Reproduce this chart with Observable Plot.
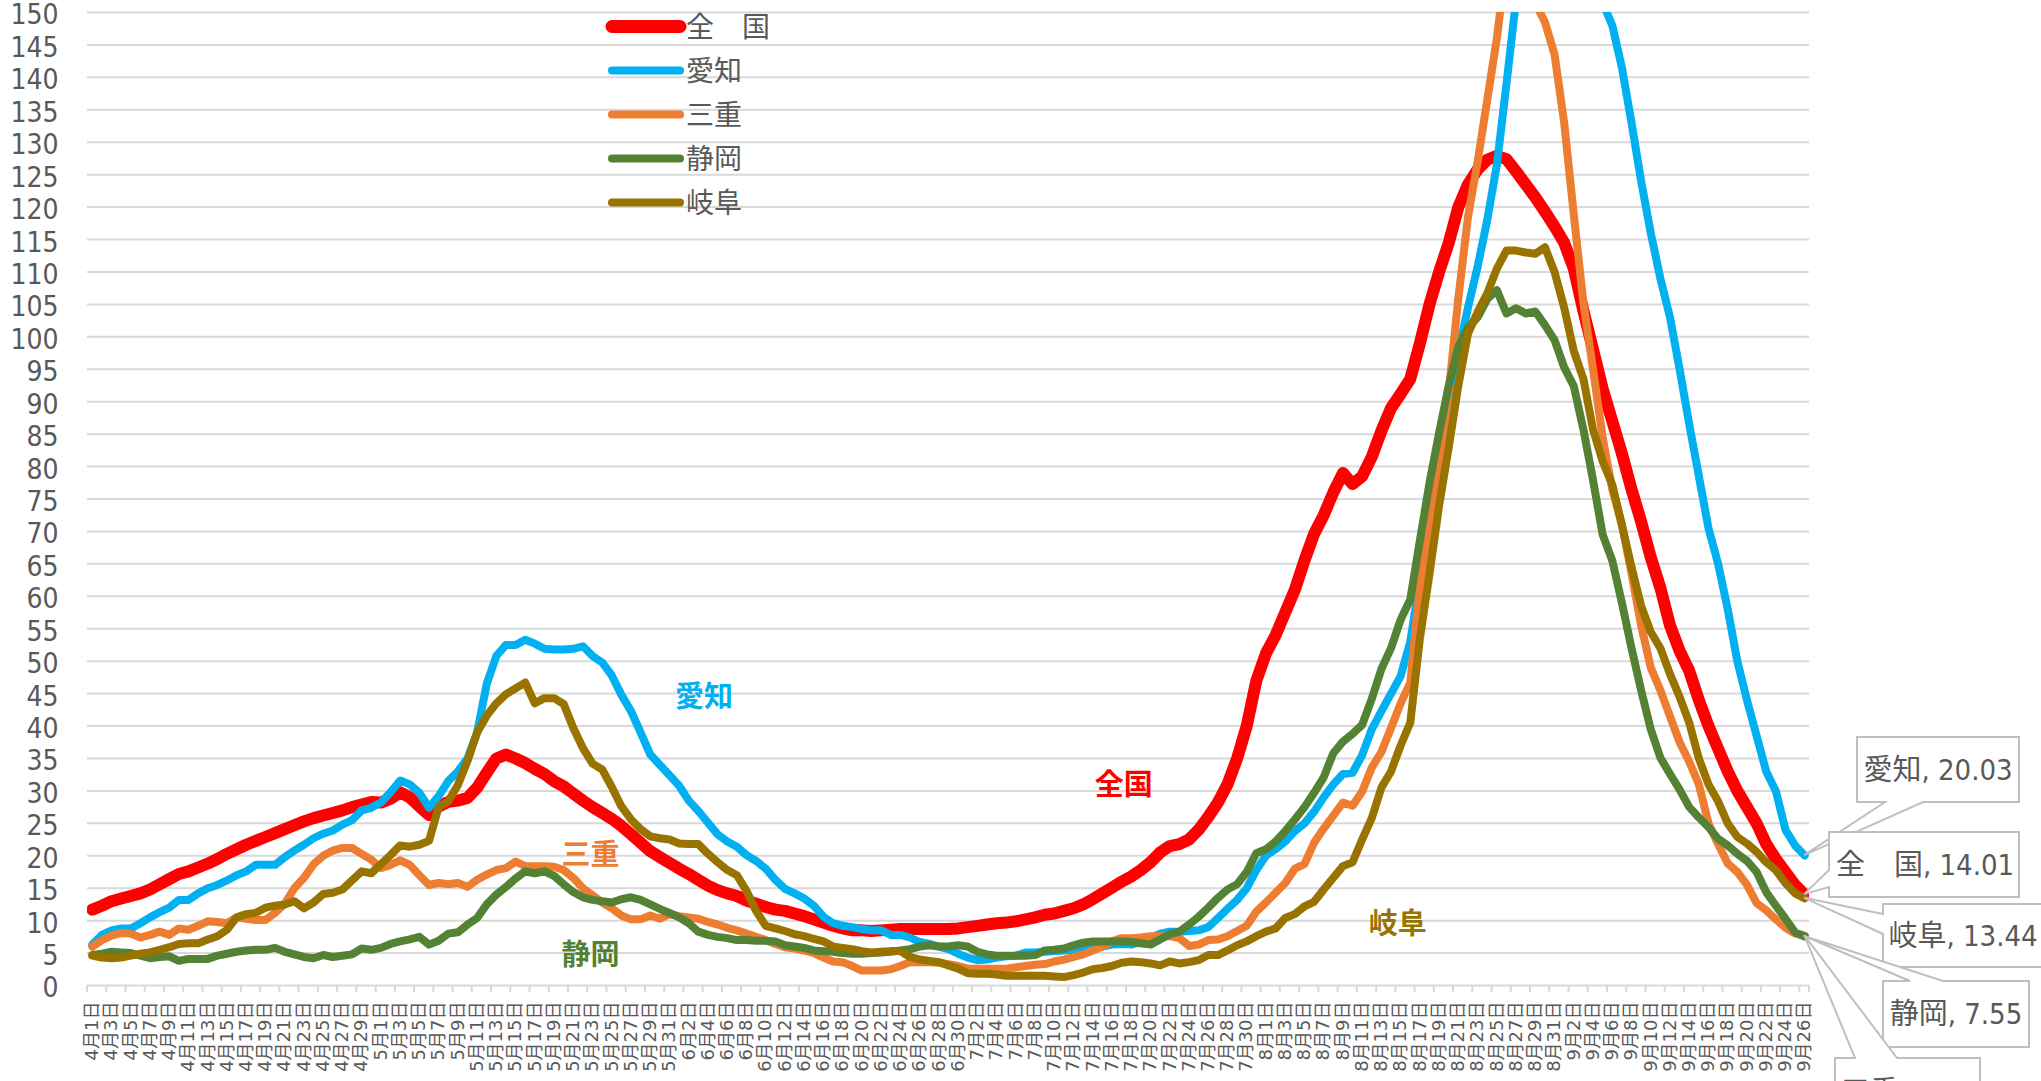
<!DOCTYPE html>
<html><head><meta charset="utf-8">
<script src="https://cdn.jsdelivr.net/npm/d3@7"></script>
<script src="https://cdn.jsdelivr.net/npm/@observablehq/plot@0.6"></script>
<style>
html,body{margin:0;padding:0;background:#fff;}
#chart{position:relative;width:2041px;height:1081px;overflow:hidden;}
</style></head><body><div id="chart"></div>
<script>
// ---- categories ----
const months = [4, 5, 6, 7, 8, 9];
const monthDays = [30, 31, 30, 31, 31, 26];
const dates = [];
months.forEach((m, k) => { for (let d = 1; d <= monthDays[k]; d++) dates.push(`${m}月${d}日`); });
const xTickLabels = dates.filter((d, i) => i % 2 === 0);
const yTicks = [0,5,10,15,20,25,30,35,40,45,50,55,60,65,70,75,80,85,90,95,100,105,110,115,120,125,130,135,140,145,150];

// ---- series ----
const seriesNames = ["全　国", "愛知", "三重", "静岡", "岐阜"];
const seriesColors = ["#FF0000", "#00B0F0", "#ED7D31", "#548235", "#997300"];

const zenkoku = [
 11.7,12.3,13.0,13.4,13.8,14.2,14.8,15.6,16.4,17.2,
 17.6,18.2,18.8,19.5,20.3,21.0,21.7,22.3,22.9,23.5,
 24.1,24.7,25.3,25.8,26.2,26.6,27.0,27.5,27.9,28.3,
 28.2,28.8,29.8,29.0,27.6,26.3,27.6,28.3,28.5,28.9,
 30.5,32.8,35.0,35.6,35.0,34.3,33.4,32.6,31.5,30.7,
 29.6,28.5,27.5,26.6,25.7,24.6,23.3,22.0,20.7,19.8,
 18.9,18.0,17.2,16.3,15.4,14.7,14.2,13.8,13.1,12.6,
 12.1,11.7,11.5,11.1,10.7,10.2,9.7,9.2,8.8,8.5,
 8.5,8.4,8.5,8.6,8.7,8.7,8.7,8.7,8.7,8.7,
 8.8,9.0,9.2,9.4,9.6,9.7,9.9,10.2,10.5,10.9,
 11.1,11.5,11.9,12.5,13.3,14.2,15.1,16.0,16.8,17.8,
 19.0,20.5,21.5,21.8,22.5,24.0,26.0,28.2,31.0,35.0,
 40.0,47.0,51.2,54.0,57.5,61.0,65.5,69.6,72.5,76.0,
 79.0,77.3,78.5,81.5,85.5,89.0,91.2,93.5,99.0,105.0,
 110.0,114.5,120.0,123.5,125.8,127.3,127.9,127.4,125.5,123.5,
 121.5,119.3,117.0,114.5,110.5,104.0,98.0,92.0,87.0,82.0,
 76.5,71.5,66.0,61.3,55.5,51.6,48.5,44.0,40.0,36.5,
 33.0,30.0,27.5,25.0,21.8,19.5,17.5,15.5,14.01];

const aichi = [
 6.3,7.8,8.5,8.8,8.8,9.6,10.5,11.3,12.0,13.2,
 13.2,14.2,15.0,15.5,16.2,17.0,17.6,18.6,18.6,18.6,
 19.8,20.8,21.7,22.7,23.4,23.9,24.8,25.5,27.0,27.4,
 28.2,29.8,31.6,31.0,29.7,27.4,29.2,31.5,33.0,35.0,
 39.0,46.5,50.8,52.5,52.5,53.3,52.7,51.9,51.8,51.8,
 51.9,52.3,50.8,49.8,47.8,44.8,42.3,39.0,35.6,34.0,
 32.4,30.8,28.5,26.9,25.1,23.3,22.2,21.4,20.1,19.2,
 18.0,16.3,14.9,14.2,13.4,12.3,10.6,9.6,9.2,9.0,
 8.7,8.5,8.5,7.8,7.8,7.4,6.7,6.4,6.0,5.6,
 4.9,4.3,3.9,4.0,4.3,4.5,4.6,5.1,5.1,5.2,
 5.3,5.4,5.5,5.7,5.9,6.0,6.3,6.4,6.3,6.7,
 7.3,8.0,8.3,8.3,8.4,8.5,9.0,10.4,11.8,13.2,
 15.0,17.8,20.0,21.0,22.2,23.8,25.0,26.8,29.0,31.0,
 32.6,32.8,35.5,39.5,42.3,45.0,47.7,53.0,62.5,71.5,
 80.5,89.5,97.5,104.5,110.8,118.0,126.5,139.0,152.0,166.0,
 180.0,188.0,190.0,186.0,178.0,169.0,160.0,151.5,148.0,141.5,
 133.0,124.0,116.0,109.0,103.0,95.0,86.5,78.5,70.5,65.0,
 58.0,50.0,44.0,38.5,33.0,30.0,24.0,21.6,20.03];

const mie = [
 6.0,7.0,7.7,8.1,8.0,7.4,7.8,8.3,7.8,8.8,
 8.6,9.2,9.9,9.8,9.6,10.5,10.3,10.1,10.1,11.2,
 12.6,15.0,16.6,18.7,20.0,20.8,21.2,21.2,20.3,19.4,
 18.1,18.6,19.3,18.6,17.0,15.5,15.8,15.6,15.8,15.2,
 16.3,17.1,17.8,18.1,19.1,18.4,18.4,18.4,18.3,17.8,
 16.6,15.0,13.9,12.8,11.9,10.8,10.2,10.2,10.8,10.3,
 11.0,10.7,10.5,10.3,9.8,9.4,8.9,8.5,8.0,7.5,
 7.0,6.4,5.9,5.7,5.4,5.0,4.3,3.7,3.6,3.0,
 2.3,2.3,2.3,2.5,3.0,3.6,3.6,3.6,3.5,3.3,
 3.0,2.6,2.6,2.6,2.6,2.6,2.8,3.0,3.2,3.3,
 3.7,4.0,4.4,4.8,5.4,6.0,6.8,7.3,7.3,7.4,
 7.6,7.6,7.6,7.3,6.1,6.3,7.0,7.1,7.6,8.4,
 9.2,11.4,12.8,14.3,15.8,18.0,18.7,22.0,24.2,26.2,
 28.2,27.7,29.9,33.6,36.0,39.7,43.5,46.7,61.5,71.5,
 80.0,91.5,106.0,118.5,127.0,136.5,146.0,158.0,165.0,158.0,
 151.5,148.5,143.5,133.0,118.8,105.2,95.0,84.5,76.5,71.0,
 63.5,55.5,49.0,45.5,41.5,37.5,34.5,31.0,25.0,21.8,
 18.8,17.5,15.5,12.7,11.6,10.2,8.9,8.0,7.7];

const shizuoka = [
 4.7,4.9,5.2,5.1,5.0,4.6,4.2,4.4,4.5,3.8,
 4.1,4.1,4.1,4.6,4.9,5.2,5.4,5.5,5.5,5.8,
 5.2,4.8,4.4,4.2,4.7,4.4,4.6,4.8,5.7,5.5,
 5.8,6.4,6.8,7.1,7.5,6.3,6.9,8.0,8.2,9.4,
 10.4,12.5,14.0,15.2,16.5,17.6,17.3,17.6,16.9,15.6,
 14.4,13.6,13.2,13.0,12.8,13.3,13.6,13.2,12.5,11.8,
 11.2,10.5,9.6,8.3,7.8,7.5,7.3,7.0,7.0,6.9,
 6.9,6.8,6.2,6.0,5.8,5.4,5.3,5.2,5.0,4.9,
 4.9,5.0,5.1,5.2,5.4,5.6,6.0,6.2,6.0,6.0,
 6.2,6.0,5.2,4.8,4.6,4.6,4.6,4.6,4.7,5.4,
 5.5,5.7,6.2,6.6,6.8,6.8,6.8,6.8,6.7,6.5,
 6.3,7.1,7.9,8.3,9.4,10.6,12.0,13.5,14.8,15.6,
 17.5,20.4,21.0,22.2,23.8,25.6,27.5,29.7,32.1,35.8,
 37.6,38.8,40.2,44.2,48.8,52.0,56.4,59.5,68.6,77.5,
 85.2,92.5,98.5,101.4,103.0,105.8,107.2,103.6,104.4,103.6,
 103.9,101.8,99.5,95.3,92.4,85.7,77.9,69.5,65.5,59.0,
 52.0,45.5,39.5,35.1,32.6,30.2,27.5,25.9,24.4,22.6,
 21.6,20.3,19.2,17.5,14.4,12.3,10.3,8.2,7.55];

const gifu = [
 4.6,4.3,4.2,4.3,4.6,4.9,5.1,5.5,5.9,6.4,
 6.5,6.5,7.1,7.6,8.6,10.5,11.0,11.2,12.0,12.3,
 12.5,13.0,11.9,12.8,14.1,14.3,14.8,16.2,17.6,17.3,
 18.7,20.1,21.6,21.4,21.7,22.3,27.5,28.4,30.9,34.6,
 39.0,41.6,43.5,44.9,45.8,46.7,43.5,44.3,44.3,43.4,
 39.7,36.6,34.2,33.3,30.6,27.6,25.6,24.1,23.0,22.7,
 22.5,21.9,21.8,21.8,20.3,19.0,17.8,17.0,14.6,11.5,
 9.2,8.8,8.4,7.9,7.6,7.2,6.8,6.0,5.8,5.6,
 5.3,5.1,5.2,5.3,5.3,4.4,4.0,3.8,3.6,3.1,
 2.6,1.9,1.8,1.8,1.7,1.5,1.5,1.5,1.5,1.5,
 1.4,1.3,1.6,2.0,2.5,2.7,3.0,3.5,3.7,3.6,
 3.4,3.1,3.7,3.4,3.6,3.9,4.7,4.7,5.4,6.2,
 6.8,7.6,8.3,8.8,10.4,11.0,12.2,12.9,14.8,16.6,
 18.4,19.0,22.5,25.8,30.5,33.0,37.0,40.5,53.5,63.5,
 74.0,83.0,92.5,100.5,103.8,106.7,110.5,113.3,113.3,113.0,
 112.8,113.8,110.0,104.5,97.8,93.5,85.7,80.8,77.2,71.0,
 64.5,58.5,54.5,52.0,48.0,44.5,40.5,35.0,31.0,28.4,
 25.0,22.9,21.9,20.6,19.0,17.8,15.8,14.2,13.44];

const seriesValues = [zenkoku, aichi, mie, shizuoka, gifu];
const rows = seriesNames.flatMap((name, k) => seriesValues[k].map((v, i) => ({name, date: dates[i], value: v})));

const numFont = '"Liberation Sans Narrow", "DejaVu Sans Condensed", "Noto Sans CJK JP", sans-serif';
const cjkFont = '"Noto Sans CJK JP", "Noto Sans", sans-serif';
const gray = "#595959";

function decorations(index, scales, values, dimensions) {
  const {x, y, color} = scales;
  const g = d3.create("svg:g");
  const step = x(dates[1]) - x(dates[0]);
  const y0 = y(0);
  // category-boundary tick marks on the x axis
  const tickPos = xTickLabels.map(d => x(d) - step / 2).concat([x(dates[dates.length - 1]) + step / 2]);
  g.append("g").selectAll("line").data(tickPos).join("line")
    .attr("x1", d => d).attr("x2", d => d).attr("y1", y0).attr("y2", y0 + 7)
    .attr("stroke", "#D9D9D9").attr("stroke-width", 2);

  // legend (inside the plot area)
  const lg = g.append("g").attr("text-anchor", "start");
  seriesNames.forEach((name, k) => {
    const ly = 26.5 + 44 * k;
    lg.append("line").attr("x1", 612).attr("x2", 680).attr("y1", ly).attr("y2", ly)
      .attr("stroke", color(name)).attr("stroke-width", k === 0 ? 13 : 8).attr("stroke-linecap", "round");
    lg.append("text").attr("x", 686).attr("y", ly).attr("dy", "0.36em").attr("text-anchor", "start")
      .attr("font-size", 28).attr("font-family", cjkFont).attr("fill", gray).text(name);
  });

  // data callouts at the last category
  const last = dates.length - 1;
  const px = x(dates[last]);
  const callouts = [
    {k: 1, box: [1857, 737, 2019, 802], edge: "bottom", a: 1885, b: 1923, tx: 1938},
    {k: 0, box: [1829, 832, 2019, 897], edge: "left", a: 870, b: 887, tx: 1925},
    {k: 4, box: [1883, 904, 2049, 967], edge: "left", a: 914, b: 934, tx: 1963},
    {k: 3, box: [1883, 981, 2029, 1047], edge: "top", a: 1910, b: 1943, tx: 1956},
    {k: 2, box: [1835, 1058, 1980, 1125], edge: "top", a: 1855, b: 1897, tx: 1907}
  ];
  const cg = g.append("g");
  callouts.forEach(c => {
    const v = seriesValues[c.k][last];
    const py = y(v);
    const [x0, y1a, x1, y1b] = c.box;
    let p;
    if (c.edge === "bottom") p = `M${x0},${y1a}H${x1}V${y1b}H${c.b}L${px},${py}L${c.a},${y1b}H${x0}Z`;
    else if (c.edge === "left") p = `M${x0},${y1a}H${x1}V${y1b}H${x0}V${c.b}L${px},${py}L${x0},${c.a}Z`;
    else p = `M${x0},${y1a}H${c.a}L${px},${py}L${c.b},${y1a}H${x1}V${y1b}H${x0}Z`;
    cg.append("path").attr("d", p).attr("fill", "#fff").attr("stroke", "#BFBFBF").attr("stroke-width", 2);
    cg.append("text").attr("x", c.tx).attr("y", (y1a + y1b) / 2).attr("dy", "0.36em")
      .attr("text-anchor", "middle").attr("font-size", 29).attr("font-family", numFont)
      .attr("fill", gray).text(`${seriesNames[c.k]}, ${v.toFixed(2)}`);
  });
  return g.node();
}

const lineMarks = seriesNames.map((name, k) =>
  Plot.line(rows.filter(r => r.name === name), {
    x: "date", y: "value", stroke: "name",
    strokeWidth: k === 0 ? 12 : 8, strokeLinejoin: "round", strokeLinecap: "round", clip: true
  }));

const inline = (t, k, di, dx, v) => Plot.text([t], {
  x: () => dates[di], y: () => v, text: d => d, dx,
  fill: seriesColors[k], fontSize: 29, fontWeight: "bold", fontFamily: cjkFont
});

const chart = Plot.plot({
  width: 2041, height: 1081,
  marginLeft: 87, marginRight: 232, marginTop: 12, marginBottom: 96,
  style: {background: "#fff", fontFamily: cjkFont, overflow: "visible"},
  x: {type: "point", domain: dates, padding: 0.5},
  y: {domain: [0, 150]},
  color: {domain: seriesNames, range: seriesColors},
  marks: [
    Plot.gridY(yTicks, {stroke: "#D9D9D9", strokeOpacity: 1, strokeWidth: 2}),
    Plot.axisY(yTicks, {tickSize: 0, tickPadding: 29, fontSize: 28, dy: 3, fontFamily: numFont, color: gray, label: null}),
    Plot.axisX(xTickLabels, {tickSize: 0, tickPadding: 16, tickRotate: -90, fontSize: 18,
      fontFamily: '"DejaVu Sans", "Noto Sans CJK JP", sans-serif', color: gray, label: null}),
    ...lineMarks,
    inline("愛知", 1, 64, -4, 44.3),
    inline("三重", 2, 52, -2, 20.0),
    inline("静岡", 3, 52, -2, 4.6),
    inline("全国", 0, 107, 2, 30.8),
    inline("岐阜", 4, 136, -3, 9.3),
    decorations
  ]
});
document.getElementById("chart").appendChild(chart);
</script></body></html>
